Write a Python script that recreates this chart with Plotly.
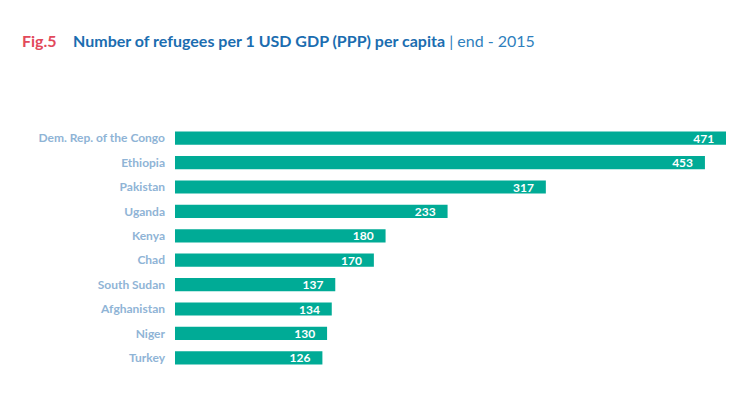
import plotly.graph_objects as go

countries = ["Dem. Rep. of the Congo", "Ethiopia", "Pakistan", "Uganda", "Kenya",
             "Chad", "South Sudan", "Afghanistan", "Niger", "Turkey"]
values = [471, 453, 317, 233, 180, 170, 137, 134, 130, 126]

W, H = 752, 393
# page body has an 8px offset; compensate so the plot lands where the reference has it
ml, mr, mt, mb = 167, 34, 118, 31

fig = go.Figure(go.Bar(
    y=countries, x=values, orientation="h",
    marker=dict(color="#00ab96", line=dict(width=0)),
    width=0.54,
    text=[str(v) + "\u2002\u00a0" for v in values], textposition="inside", insidetextanchor="end",
    textfont=dict(color="white", size=12, family="Lato", weight="bold"),
    cliponaxis=False,
))

fig.update_layout(
    width=W, height=H,
    margin=dict(l=ml, r=mr, t=mt, b=mb),
    paper_bgcolor="white", plot_bgcolor="white",
    showlegend=False,
    xaxis=dict(range=[0, 471], visible=False, fixedrange=True),
    yaxis=dict(autorange="reversed", showgrid=False, zeroline=False, showline=False,
               ticks="", ticklabelstandoff=9,
               tickfont=dict(color="#8fb4d6", size=12, family="Lato", weight="bold")),
    uniformtext=dict(minsize=8, mode="show"),
)

fig.add_annotation(
    xref="paper", yref="paper",
    x=(12 - ml) / (W - ml - mr), y=1 + (mt - 33) / (H - mt - mb),
    xanchor="left", yanchor="middle", showarrow=False,
    text=("<span style='color:#e2495b'><b>Fig.5</b></span>"
          "&nbsp;&nbsp;&nbsp;&nbsp;<span style='color:#1b6db0'><b>Number of refugees per 1 USD GDP (PPP) per capita</b></span>"
          "<span style='color:#2f7fbd'> | end - 2015</span>"),
    font=dict(size=16, family="Lato"),
)

fig.write_html("out.html")
